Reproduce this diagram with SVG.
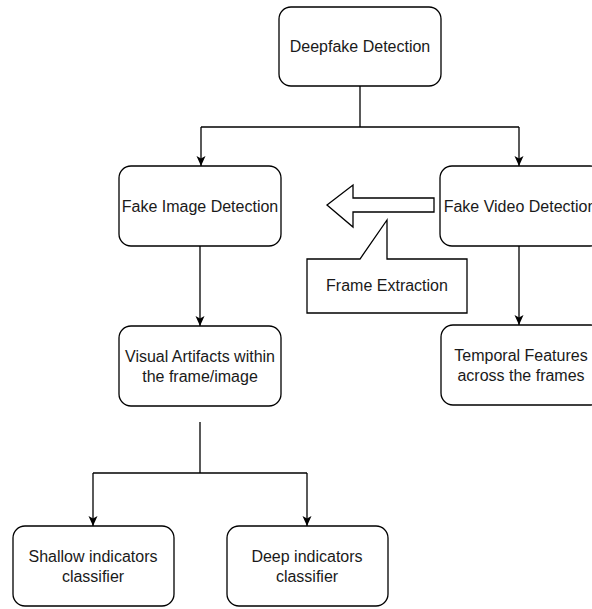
<svg xmlns="http://www.w3.org/2000/svg" width="592" height="609" viewBox="0 0 592 609">
  <style>
    .box { fill: #ffffff; stroke: #000000; stroke-width: 1.3; }
    .edge { fill: none; stroke: #000000; stroke-width: 1.3; }
    .label { font-family: "Liberation Sans", Arial, Helvetica, sans-serif; font-size: 16px; fill: #1a1a1a; text-anchor: middle; dominant-baseline: central; }
  </style>
  <defs>
    <marker id="arrow" viewBox="0 0 10 10" refX="10" refY="5" markerWidth="10" markerHeight="10" markerUnits="userSpaceOnUse" orient="auto">
      <path d="M0,0.5 L10,5 L0,9.5 L2.5,5 Z" fill="#000000"/>
    </marker>
  </defs>
  <rect width="592" height="609" fill="#ffffff"/>

  <!-- connectors -->
  <g id="connectors">
    <path class="edge" d="M360,86 V127"/>
    <path class="edge" d="M201,127 H519"/>
    <path class="edge" d="M201,127 V166" marker-end="url(#arrow)"/>
    <path class="edge" d="M519,127 V166" marker-end="url(#arrow)"/>
    <path class="edge" d="M200,246 V326" marker-end="url(#arrow)"/>
    <path class="edge" d="M519,246 V325" marker-end="url(#arrow)"/>
    <path class="edge" d="M200,422 V473"/>
    <path class="edge" d="M93,473 H307"/>
    <path class="edge" d="M93,473 V526" marker-end="url(#arrow)"/>
    <path class="edge" d="M307,473 V526" marker-end="url(#arrow)"/>
    <!-- hollow block arrow pointing left -->
    <path class="edge" d="M434,198 H353 V185 L327,205 L353,227 V212 H434 Z" style="fill:#ffffff"/>
  </g>

  <g id="deepfake-detection">
    <rect class="box" x="279" y="7" width="162" height="79" rx="12"/>
    <text class="label" x="360" y="46">Deepfake Detection</text>
  </g>

  <g id="fake-image-detection">
    <rect class="box" x="119" y="166" width="162" height="80" rx="12"/>
    <text class="label" x="200" y="206">Fake Image Detection</text>
  </g>

  <g id="fake-video-detection">
    <rect class="box" x="440" y="166" width="162" height="80" rx="12"/>
    <text class="label" x="520" y="206">Fake Video Detection</text>
  </g>

  <g id="frame-extraction">
    <path class="box" d="M307,259 H360 L387,220 V259 H467 V313 H307 Z"/>
    <text class="label" x="387" y="285">Frame Extraction</text>
  </g>

  <g id="visual-artifacts">
    <rect class="box" x="119" y="326" width="162" height="80" rx="12"/>
    <text class="label" x="200" y="356">Visual Artifacts within</text>
    <text class="label" x="200" y="376">the frame/image</text>
  </g>

  <g id="temporal-features">
    <rect class="box" x="441" y="325" width="162" height="80" rx="12"/>
    <text class="label" x="521" y="355">Temporal Features</text>
    <text class="label" x="521" y="375">across the frames</text>
  </g>

  <g id="shallow-indicators">
    <rect class="box" x="13" y="526" width="161" height="80" rx="12"/>
    <text class="label" x="93" y="556">Shallow indicators</text>
    <text class="label" x="93" y="576">classifier</text>
  </g>

  <g id="deep-indicators">
    <rect class="box" x="227" y="526" width="161" height="80" rx="12"/>
    <text class="label" x="307" y="556">Deep indicators</text>
    <text class="label" x="307" y="576">classifier</text>
  </g>
</svg>
